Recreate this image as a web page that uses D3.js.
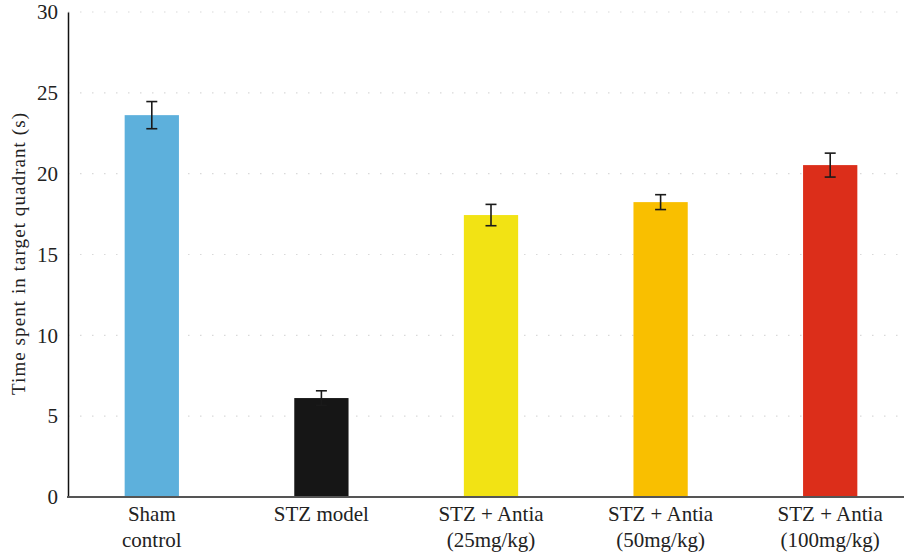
<!DOCTYPE html>
<html><head><meta charset="utf-8">
<script src="https://cdn.jsdelivr.net/npm/d3@7"></script>
<style>body{margin:0;background:#fff}svg{display:block}
svg text{font-family:"Liberation Serif","Times New Roman","DejaVu Serif",serif;}</style>
</head><body>
<svg id="c" width="904" height="559"></svg>
<script>
const categories = [["Sham","control"],["STZ model"],["STZ + Antia","(25mg/kg)"],["STZ + Antia","(50mg/kg)"],["STZ + Antia","(100mg/kg)"]];
const values = [23.62, 6.12, 17.44, 18.24, 20.53];
const errors = [0.84, 0.45, 0.66, 0.46, 0.74];
const colors = ["#5DB0DC","#161616","#F2E314","#F9BF00","#DC2E1A"];
const yTicks = [0,5,10,15,20,25,30];

const svg = d3.select("#c");
const x = d3.scaleBand().domain(d3.range(values.length)).range([67,915]).paddingInner(0.68).paddingOuter(0.34);
const y = d3.scaleLinear().domain([0,30]).range([497,12]);

// gridlines
svg.append("g").selectAll("line").data(yTicks.filter(d=>d>0)).join("line")
  .attr("x1",68).attr("x2",904).attr("y1",d=>y(d)).attr("y2",d=>y(d))
  .attr("stroke","#d9d9d9").attr("stroke-width",1.2).attr("stroke-dasharray","1.5,10.5");

// bars
svg.append("g").selectAll("rect").data(values).join("rect")
  .attr("x",(d,i)=>x(i)).attr("width",x.bandwidth())
  .attr("y",d=>y(d)).attr("height",d=>y(0)-y(d))
  .attr("fill",(d,i)=>colors[i]);

// error bars
const eb = svg.append("g").attr("stroke","#1a1a1a").attr("stroke-width",1.6);
values.forEach((v,i)=>{
  const cx = x(i)+x.bandwidth()/2;
  eb.append("line").attr("x1",cx).attr("x2",cx).attr("y1",y(v+errors[i])).attr("y2",y(v-errors[i]));
  [v+errors[i], v-errors[i]].forEach(e=>{
    eb.append("line").attr("x1",cx-5.5).attr("x2",cx+5.5).attr("y1",y(e)).attr("y2",y(e));
  });
});

// y axis
const ya = svg.append("g").attr("transform","translate(68,0)")
  .call(d3.axisLeft(y).tickValues(yTicks).tickSize(0).tickPadding(10));
ya.attr("font-family",null);
ya.select(".domain").attr("stroke","#111").attr("stroke-width",1.5);
ya.selectAll("text").attr("font-size",21).attr("fill","#222");

// x axis line
svg.append("line").attr("x1",67).attr("x2",904).attr("y1",497).attr("y2",497)
  .attr("stroke","#555").attr("stroke-width",2);

// x labels
const xl = svg.append("g").selectAll("text").data(categories).join("text")
  .attr("x",(d,i)=>x(i)+x.bandwidth()/2).attr("y",521)
  .attr("text-anchor","middle").attr("font-size",21).attr("fill","#222");
xl.each(function(d){
  const t = d3.select(this);
  d.forEach((line,j)=>t.append("tspan").attr("x",t.attr("x")).attr("dy",j===0?0:26).text(line));
});

// y title
svg.append("text").attr("transform","translate(25,254) rotate(-90)")
  .attr("text-anchor","middle").attr("font-size",19).attr("fill","#222")
  .attr("textLength",282).attr("lengthAdjust","spacing")
  .text("Time spent in target quadrant (s)");
</script>
</body></html>
